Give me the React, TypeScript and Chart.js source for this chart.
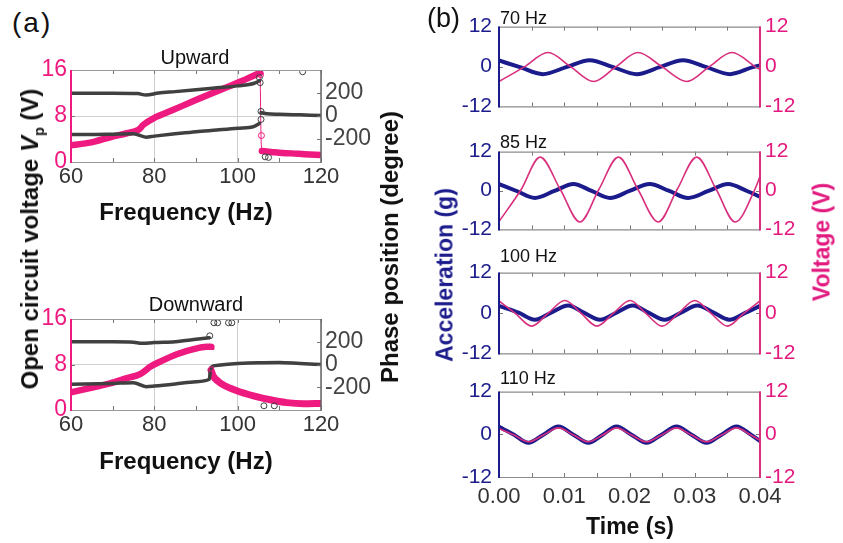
import React, { useEffect, useRef } from 'react';
import { Chart, registerables } from 'chart.js';
Chart.register(...registerables);

const FONT = '"Liberation Sans", Arial, Helvetica, sans-serif';
const PINK_A = '#ee1a80';
const PINK_B = '#d8307e';
const PINK_T = '#e2197f';
const NAVY = '#1b1b8c';
const DARK = '#404040';

// ---------- Panel (a) ticks ----------
const freqTicks = [60, 80, 100, 120];
const freqMinor = [60, 70, 80, 90, 100, 110, 120];
const voltTicksA = [0, 8, 16];
const phaseTicks = [-200, 0, 200];

// ---------- Panel (a) Upward ----------
const upVF = [60, 63, 65.4, 69.4, 73.4, 76.2, 77.4, 79.8, 84, 89.4, 93, 97.4, 101, 103.8, 105.4];
const upV = [2.9, 3.2, 3.5, 4.3, 5.0, 5.6, 6.5, 7.6, 8.9, 10.6, 11.7, 13.0, 14.1, 15.0, 15.5];
const upJumpF = [105.4, 105.6, 105.8];
const upJumpV = [15.5, 4.7, 1.9];
const upV2F = [105.8, 108, 110, 113, 116, 120];
const upV2 = [1.9, 1.75, 1.6, 1.5, 1.35, 1.2];
const upPh1F = [60, 70, 76, 78, 81, 85, 90, 95, 100, 104, 105.2];
const upPh1 = [197, 197, 195, 182, 200, 212, 228, 245, 262, 285, 305];
const upPh2F = [60, 65, 70, 75, 78, 80, 85, 90, 95, 100, 104, 105.2];
const upPh2 = [-160, -160, -158, -155, -184, -175, -155, -136, -122, -107, -90, -65];
const upPh3F = [105.6, 107, 110, 115, 120];
const upPh3 = [30, 20, 15, 10, 5];
const upPinkMarkF = [105.5, 105.7];
const upPinkMark = [15.2, 4.6];
const upBlackMarkF = [105.2, 105.4, 105.6, 105.6, 106.6, 107.4, 115.6];
const upBlackMark = [335, 290, 40, -30, -355, -360, 385];

// ---------- Panel (a) Downward ----------
const dnVF = [60, 65.4, 69.4, 73.4, 76.6, 79, 81.4, 85.4, 89.4, 92.6, 93.6];
const dnV = [3.1, 4.0, 4.7, 5.6, 6.3, 7.6, 8.5, 9.8, 10.7, 11.1, 11.1];
const dnV2F = [93.6, 94.2, 95.4, 96.6, 99.8, 103.8, 107.8, 111.8, 115.8, 120];
const dnV2 = [7.0, 5.9, 5.0, 4.4, 3.4, 2.5, 1.8, 1.3, 1.1, 1.15];
const dnPh1F = [60, 70, 75, 77, 80, 85, 90, 93.2];
const dnPh1 = [200, 200, 196, 186, 193, 200, 221, 236];
const dnPh2F = [60, 70, 75, 78, 80, 85, 90, 93.2, 93.5, 94.5, 97, 100, 105, 110, 115, 120];
const dnPh2 = [-174, -166, -160, -195, -190, -172, -151, -130, -35, -10, 0, 8, 16, 18, 8, 0];
const dnPinkMarkF = [93.8, 93.7];
const dnPinkMark = [11.0, 7.2];
const dnBlackMarkF = [93.3, 94.3, 95.2, 97.8, 98.6, 106.3, 108.8];
const dnBlackMark = [252, 367, 367, 367, 367, -363, -363];

// ---------- Panel (b) ticks ----------
const timeTicks = [0, 0.01, 0.02, 0.03, 0.04];
const timeTickLabels = ['0.00', '0.01', '0.02', '0.03', '0.04'];
const timeMinor = [0, 0.005, 0.01, 0.015, 0.02, 0.025, 0.03, 0.035, 0.04];
const waveTicks = [-12, 0, 12];

// ---------- Panel (b) waveforms ----------
const b70AccT = [0, 0.0032, 0.0067, 0.0103, 0.0139, 0.0175, 0.0211, 0.0246, 0.0282, 0.0318, 0.0354, 0.0389, 0.04];
const b70Acc = [1.8, -0.2, -2.3, -0.2, 1.9, -0.2, -2.3, -0.2, 1.9, -0.2, -2.3, -0.2, 0.3];
const b70VT = [0, 0.0039, 0.0075, 0.011, 0.0145, 0.0179, 0.0213, 0.025, 0.0288, 0.0322, 0.0357, 0.0393, 0.04];
const b70V = [-4.5, -0.1, 4.2, -0.1, -4.5, -0.1, 4.2, -0.1, -4.5, -0.1, 4.2, -0.1, -0.9];

const b85AccT = [0, 0.0027, 0.0055, 0.0085, 0.0114, 0.0142, 0.017, 0.02, 0.0231, 0.0261, 0.029, 0.0321, 0.0351, 0.038, 0.04];
const b85Acc = [2.0, -0.15, -2.3, -0.15, 2.0, -0.15, -2.3, -0.15, 2.0, -0.15, -2.3, -0.15, 2.0, -0.15, -1.9];
const b85VT = [0, 0.0034, 0.0063, 0.0094, 0.0124, 0.0153, 0.0183, 0.0213, 0.0244, 0.0273, 0.0303, 0.0333, 0.0362, 0.0392, 0.04];
const b85V = [-9.6, 0.3, 10.3, 0.3, -9.7, 0.3, 10.3, 0.3, -9.7, 0.3, 10.3, 0.3, -9.7, 0.3, 4.3];

const b100AccT = [0, 0.003, 0.0055, 0.008, 0.0106, 0.013, 0.0155, 0.018, 0.0205, 0.0229, 0.0254, 0.0279, 0.0304, 0.0329, 0.0353, 0.0378, 0.04];
const b100Acc = [2.1, 0.1, -2.0, 0.1, 2.2, 0.1, -2.0, 0.1, 2.2, 0.1, -2.0, 0.1, 2.2, 0.1, -2.0, 0.1, 2.1];
const b100VT = [0, 0.0025, 0.005, 0.0075, 0.0101, 0.0126, 0.015, 0.0175, 0.0201, 0.0225, 0.025, 0.0275, 0.03, 0.0325, 0.035, 0.0375, 0.04];
const b100V = [3.6, -0.1, -3.9, -0.1, 3.7, -0.1, -3.9, -0.1, 3.7, -0.1, -3.9, -0.1, 3.7, -0.1, -3.9, -0.1, 3.6];

const b110T = [0, 0.0023, 0.0045, 0.0068, 0.0091, 0.0114, 0.0137, 0.0159, 0.018, 0.0203, 0.0226, 0.0249, 0.0272, 0.0295, 0.0318, 0.0341, 0.0364, 0.0386, 0.04];
const b110Acc = [2.1, -0.1, -2.4, -0.1, 2.2, -0.1, -2.4, -0.1, 2.2, -0.1, -2.4, -0.1, 2.2, -0.1, -2.4, -0.1, 2.2, -0.1, -1.9];
const b110V = [1.6, -0.2, -2.1, -0.2, 1.8, -0.2, -2.1, -0.2, 1.8, -0.2, -2.1, -0.2, 1.8, -0.2, -2.1, -0.2, 1.8, -0.2, -1.7];

const pts = (xs: number[], ys: number[]) => xs.map((x, i) => ({ x, y: ys[i] }));

const framePlugin = {
  id: 'frame',
  afterDraw(chart: any, _a: any, o: any) {
    const { ctx, chartArea: a, scales } = chart;
    ctx.save();
    ctx.strokeStyle = o.tickColor;
    ctx.lineWidth = 1;
    ctx.beginPath();
    for (const v of o.xMinor) {
      const px = Math.round(scales.x.getPixelForValue(v)) + 0.5;
      ctx.moveTo(px, a.top);
      ctx.lineTo(px, a.top + o.tickLen);
      ctx.moveTo(px, a.bottom);
      ctx.lineTo(px, a.bottom - o.tickLen);
    }
    for (const v of o.yLeft) {
      const py = Math.round(scales.y.getPixelForValue(v)) + 0.5;
      ctx.moveTo(a.left, py);
      ctx.lineTo(a.left + o.tickLen, py);
    }
    for (const v of o.yRight) {
      const py = Math.round(scales.y2.getPixelForValue(v)) + 0.5;
      ctx.moveTo(a.right, py);
      ctx.lineTo(a.right - o.tickLen, py);
    }
    ctx.stroke();
    ctx.strokeStyle = o.boxColor;
    ctx.lineWidth = 1.2;
    ctx.beginPath();
    ctx.moveTo(a.left, a.top + 0.5);
    ctx.lineTo(a.right, a.top + 0.5);
    ctx.moveTo(a.left, a.bottom + 0.5);
    ctx.lineTo(a.right, a.bottom + 0.5);
    ctx.stroke();
    ctx.strokeStyle = o.leftColor;
    ctx.lineWidth = o.leftWidth;
    ctx.beginPath();
    ctx.moveTo(a.left, a.top);
    ctx.lineTo(a.left, a.bottom + 1);
    ctx.stroke();
    ctx.strokeStyle = o.rightColor;
    ctx.lineWidth = o.rightWidth;
    ctx.beginPath();
    ctx.moveTo(a.right, a.top);
    ctx.lineTo(a.right, a.bottom + 1);
    ctx.stroke();
    ctx.restore();
  },
};

function lineDs(xs: number[], ys: number[], color: string, width: number, axis = 'y') {
  return {
    data: pts(xs, ys),
    borderColor: color,
    backgroundColor: color,
    borderWidth: width,
    pointRadius: 0,
    cubicInterpolationMode: 'monotone',
    yAxisID: axis,
    borderCapStyle: 'round',
    borderJoinStyle: 'round',
  };
}

function markDs(xs: number[], ys: number[], color: string, axis: string, style = 'circle') {
  return {
    data: pts(xs, ys),
    showLine: false,
    pointRadius: 3,
    pointStyle: style,
    pointBorderColor: color,
    pointBackgroundColor: 'rgba(255,255,255,0)',
    pointBorderWidth: 1,
    yAxisID: axis,
  };
}

function fixedTicks(values: number[]) {
  return (s: any) => {
    s.ticks = values.map((v) => ({ value: v }));
  };
}

function freqConfig(datasets: any[], padTop: number, xHeight: number) {
  return {
    type: 'line',
    data: { datasets },
    options: {
      responsive: false,
      animation: false,
      events: [],
      devicePixelRatio: 1,
      layout: { padding: { top: padTop, left: 0, right: 0, bottom: 0 } },
      plugins: {
        legend: { display: false },
        tooltip: { enabled: false },
        frame: {
          xMinor: freqMinor,
          yLeft: voltTicksA,
          yRight: phaseTicks,
          tickLen: 4,
          tickColor: '#777',
          boxColor: '#9a9a9a',
          leftColor: PINK_A,
          leftWidth: 2,
          rightColor: '#666',
          rightWidth: 1.5,
        },
      },
      scales: {
        x: {
          type: 'linear',
          min: 60,
          max: 120,
          afterBuildTicks: fixedTicks(freqTicks),
          afterFit: (s: any) => { s.height = xHeight; },
          grid: { color: '#cfcfcf', drawTicks: false, lineWidth: 1 },
          border: { display: false },
          ticks: { color: '#333', padding: 2, font: { family: FONT, size: 22 }, maxRotation: 0, callback: (v: number) => String(v) },
        },
        y: {
          position: 'left',
          min: 0,
          max: 16,
          afterBuildTicks: fixedTicks(voltTicksA),
          afterFit: (s: any) => { s.width = 71; },
          grid: { color: '#cfcfcf', drawTicks: false },
          border: { display: false },
          ticks: { color: PINK_A, padding: 4, font: { family: FONT, size: 23 }, callback: (v: number) => String(v) },
        },
        y2: {
          position: 'right',
          min: -400,
          max: 400,
          afterBuildTicks: fixedTicks(phaseTicks),
          afterFit: (s: any) => { s.width = 99; },
          grid: { display: false, drawTicks: false },
          border: { display: false },
          ticks: { color: '#444', padding: 4, font: { family: FONT, size: 23 }, callback: (v: number) => String(v) },
        },
      },
    },
    plugins: [framePlugin],
  };
}

function upConfig() {
  return freqConfig(
    [
      markDs(upBlackMarkF, upBlackMark, DARK, 'y2'),
      markDs(upPinkMarkF, upPinkMark, PINK_A, 'y'),
      lineDs(upPh1F, upPh1, DARK, 3.5, 'y2'),
      lineDs(upPh2F, upPh2, DARK, 3.5, 'y2'),
      lineDs(upPh3F, upPh3, DARK, 3.5, 'y2'),
      lineDs(upVF, upV, PINK_A, 6.5, 'y'),
      lineDs(upJumpF, upJumpV, PINK_A, 1, 'y'),
      lineDs(upV2F, upV2, PINK_A, 6.5, 'y'),
    ],
    30,
    43
  );
}

function dnConfig() {
  return freqConfig(
    [
      markDs(dnBlackMarkF, dnBlackMark, DARK, 'y2'),
      markDs(dnPinkMarkF, dnPinkMark, PINK_A, 'y', 'rect'),
      lineDs(dnPh1F, dnPh1, DARK, 3.5, 'y2'),
      lineDs(dnPh2F, dnPh2, DARK, 3.5, 'y2'),
      lineDs(dnVF, dnV, PINK_A, 6.5, 'y'),
      lineDs(dnV2F, dnV2, PINK_A, 7, 'y'),
    ],
    29,
    45
  );
}

function waveConfig(accT: number[], acc: number[], vT: number[], v: number[], showX: boolean) {
  return {
    type: 'line',
    data: {
      datasets: [lineDs(vT, v, PINK_B, 1.6, 'y2'), lineDs(accT, acc, NAVY, 4, 'y')],
    },
    options: {
      responsive: false,
      animation: false,
      events: [],
      devicePixelRatio: 1,
      layout: { padding: { top: 16, left: 0, right: 0, bottom: showX ? 0 : 16 } },
      plugins: {
        legend: { display: false },
        tooltip: { enabled: false },
        frame: {
          xMinor: timeMinor,
          yLeft: [0],
          yRight: [0],
          tickLen: 4,
          tickColor: '#777',
          boxColor: '#8c8c8c',
          leftColor: NAVY,
          leftWidth: 2,
          rightColor: PINK_B,
          rightWidth: 2,
        },
      },
      scales: {
        x: {
          type: 'linear',
          display: showX,
          min: 0,
          max: 0.04,
          afterBuildTicks: fixedTicks(timeTicks),
          afterFit: showX ? (s: any) => { s.height = 40; } : undefined,
          grid: { display: false, drawTicks: false },
          border: { display: false },
          ticks: {
            color: '#333',
            padding: 7,
            maxRotation: 0,
            autoSkip: false,
            font: { family: FONT, size: 22 },
            callback: (val: number) => timeTickLabels[timeTicks.indexOf(val)],
          },
        },
        y: {
          position: 'left',
          min: -12,
          max: 12,
          afterBuildTicks: fixedTicks(waveTicks),
          afterFit: (s: any) => { s.width = 79; },
          grid: { display: false, drawTicks: false },
          border: { display: false },
          ticks: { color: NAVY, padding: 7, font: { family: FONT, size: 21 }, callback: (val: number) => String(val) },
        },
        y2: {
          position: 'right',
          min: -12,
          max: 12,
          afterBuildTicks: fixedTicks(waveTicks),
          afterFit: (s: any) => { s.width = 83; },
          grid: { display: false, drawTicks: false },
          border: { display: false },
          ticks: { color: PINK_T, padding: 5, font: { family: FONT, size: 21 }, callback: (val: number) => String(val) },
        },
      },
    },
    plugins: [framePlugin],
  };
}

function ChartBox({ left, top, width, height, make }: any) {
  const ref = useRef<HTMLCanvasElement>(null);
  useEffect(() => {
    const c = new Chart(ref.current as HTMLCanvasElement, make());
    return () => c.destroy();
  }, []);
  return (
    <canvas
      ref={ref}
      width={width}
      height={height}
      style={{ position: 'absolute', left, top, width, height }}
    />
  );
}

function Txt({ x, y, size, bold, color, center, spacing, children }: any) {
  return (
    <div
      style={{
        position: 'absolute',
        left: x,
        top: y,
        fontFamily: FONT,
        fontSize: size,
        fontWeight: bold ? 'bold' : 'normal',
        color: color || '#111',
        lineHeight: 1,
        letterSpacing: spacing,
        whiteSpace: 'nowrap',
        transform: center ? 'translateX(-50%)' : undefined,
      }}
    >
      {children}
    </div>
  );
}

function VTxt({ cx, cy, size, color, children }: any) {
  return (
    <div
      style={{
        position: 'absolute',
        left: cx,
        top: cy,
        fontFamily: FONT,
        fontSize: size,
        fontWeight: 'bold',
        color,
        lineHeight: 1,
        whiteSpace: 'nowrap',
        transform: 'translate(-50%, -50%) rotate(-90deg)',
      }}
    >
      {children}
    </div>
  );
}

const waveTops = [23, 148, 269, 388];
const waveBottoms = [110, 233, 357, 477];

export default function App() {
  const waves = [
    () => waveConfig(b70AccT, b70Acc, b70VT, b70V, false),
    () => waveConfig(b85AccT, b85Acc, b85VT, b85V, false),
    () => waveConfig(b100AccT, b100Acc, b100VT, b100V, false),
    () => waveConfig(b110T, b110Acc, b110T, b110V, true),
  ];
  const waveTitles = ['70 Hz', '85 Hz', '100 Hz', '110 Hz'];
  return (
    <div style={{ position: 'absolute', left: 0, top: 0, width: 843, height: 543, background: '#fff', overflow: 'hidden' }}>
      <ChartBox left={0} top={40} width={420} height={165} make={upConfig} />
      <ChartBox left={0} top={290} width={420} height={165} make={dnConfig} />
      {waves.map((mk, i) => {
        const T = waveTops[i];
        const B = waveBottoms[i];
        const h = B - T + 16 + (i === 3 ? 40 : 16);
        return <ChartBox key={i} left={420} top={T - 16} width={423} height={h} make={mk} />;
      })}

      <Txt x={12} y={9} size={28} spacing={2}>(a)</Txt>
      <Txt x={427} y={5} size={27}>(b)</Txt>
      <Txt x={195} y={47} size={20} center>Upward</Txt>
      <Txt x={196} y={294} size={20} center>Downward</Txt>
      <Txt x={186} y={200} size={24} bold center>Frequency (Hz)</Txt>
      <Txt x={186} y={449} size={24} bold center>Frequency (Hz)</Txt>
      {waveTitles.map((t, i) => (
        <Txt key={t} x={500} y={[9, 133, 247, 369][i]} size={18}>{t}</Txt>
      ))}
      <Txt x={630} y={515} size={23} bold center>Time (s)</Txt>
      <VTxt cx={30} cy={239} size={24} color="#111">
        Open circuit voltage <i>V</i>
        <sub style={{ fontSize: '60%', lineHeight: 0 }}>p</sub> (V)
      </VTxt>
      <VTxt cx={390} cy={247} size={24} color="#111">Phase position (degree)</VTxt>
      <VTxt cx={445} cy={275} size={23} color={NAVY}>Acceleration (g)</VTxt>
      <VTxt cx={822} cy={242} size={23} color={PINK_T}>Voltage (V)</VTxt>
    </div>
  );
}
